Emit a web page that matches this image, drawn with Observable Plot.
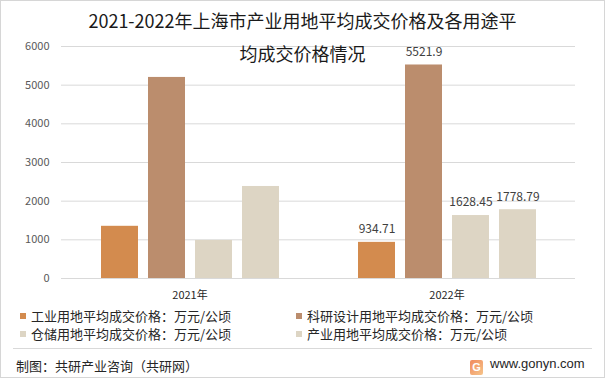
<!DOCTYPE html>
<html>
<head>
<meta charset="utf-8">
<script src="https://cdn.jsdelivr.net/npm/d3@7"></script>
<script src="https://cdn.jsdelivr.net/npm/@observablehq/plot@0.6"></script>
<style>
  html, body { margin: 0; padding: 0; background: #fff; }
  #wrap { position: relative; width: 605px; height: 378px; overflow: hidden; font-family: "Noto Sans CJK SC", "Noto Sans", sans-serif; background: #fff; }
  #border { position: absolute; left: 0; top: 0; width: 603px; height: 376px; border: 1px solid #d6d6d6; pointer-events: none; }
  #chart { position: absolute; left: 0; top: 0; }
  #title { position: absolute; left: 0; top: 4px; width: 605px; text-align: center; font-size: 18px; line-height: 33px; color: #1a1a1a; }
  .leg { position: absolute; font-size: 13px; color: #262626; line-height: 16px; white-space: nowrap; }
  .leg i { display: inline-block; width: 6px; height: 6px; margin-right: 5px; vertical-align: 2px; }
  #sep { position: absolute; left: 13px; top: 348px; width: 579px; height: 1px; background: #d9d9d9; }
  #src { position: absolute; left: 16px; top: 357px; font-size: 13px; line-height: 18px; color: #262626; }
  #site { position: absolute; left: 470px; top: 355px; font-size: 13px; line-height: 18px; color: #262626; font-family: "Liberation Sans", Arial, sans-serif; white-space: nowrap; }
  #logo { display: inline-block; width: 13px; height: 15px; margin-right: 7px; vertical-align: -3px; background: linear-gradient(135deg, #f08a5d, #f6c48a); border-radius: 2px; color: #fff; font-size: 11px; line-height: 15px; text-align: center; font-weight: bold; }
</style>
</head>
<body>
<div id="wrap">
  <div id="chart"></div>
  <div id="title"></div>
  <div id="legend"></div>
  <div id="sep"></div>
  <div id="src"></div>
  <div id="site"><span id="logo">G</span>www.gonyn.com</div>
  <div id="border"></div>
</div>
<script>
const titleLines = ["2021-2022年上海市产业用地平均成交价格及各用途平", "均成交价格情况"];
const years = ["2021年", "2022年"];
const series = [
  "工业用地平均成交价格：万元/公顷",
  "科研设计用地平均成交价格：万元/公顷",
  "仓储用地平均成交价格：万元/公顷",
  "产业用地平均成交价格：万元/公顷"
];
const values2021 = [1350, 5200, 985, 2380];
const values2022 = [934.71, 5521.9, 1628.45, 1778.79];
const labels2022 = ["934.71", "5521.9", "1628.45", "1778.79"];
const colors = ["#D38B4E", "#BB8D6D", "#DDD5C4", "#DDD5C4"];
const yTicks = [0, 1000, 2000, 3000, 4000, 5000, 6000];
const sourceText = "制图：共研产业咨询（共研网）";

const data = [];
series.forEach((s, i) => {
  data.push({year: years[0], series: s, value: values2021[i], label: null});
  data.push({year: years[1], series: s, value: values2022[i], label: labels2022[i]});
});

document.getElementById("title").innerHTML = titleLines.join("<br>");
document.getElementById("src").textContent = sourceText;

const legendPos = [[20, 308], [296, 308], [20, 326], [296, 326]];
const leg = document.getElementById("legend");
series.forEach((s, i) => {
  const d = document.createElement("div");
  d.className = "leg";
  d.style.left = legendPos[i][0] + "px";
  d.style.top = legendPos[i][1] + "px";
  d.innerHTML = `<i style="background:${colors[i]}"></i>`;
  d.appendChild(document.createTextNode(s));
  leg.appendChild(d);
});

const chart = Plot.plot({
  width: 605,
  height: 305,
  marginTop: 46,
  marginBottom: 27,
  marginLeft: 61,
  marginRight: 30,
  style: {fontSize: "11px", fontFamily: "\"Noto Sans CJK SC\", sans-serif", color: "#595959", background: "transparent"},
  fx: {domain: years, padding: 0, label: null, axis: null},
  x: {domain: series, paddingInner: 0.213, paddingOuter: 0.84, axis: null},
  y: {domain: [0, 6000], label: null},
  color: {domain: series, range: colors},
  marks: [
    Plot.gridY(yTicks, {stroke: "#d9d9d9", strokeOpacity: 1}),
    Plot.axisY(yTicks, {tickSize: 0, tickPadding: 12, label: null, fill: "#595959", tickFormat: d => String(d)}),
    Plot.axisFx({anchor: "bottom", tickSize: 0, tickPadding: 13, label: null, fill: "#262626"}),
    Plot.barY(data, {fx: "year", x: "series", y: "value", fill: "series"}),
    Plot.text(data.filter(d => d.label), {fx: "year", x: "series", y: "value", text: "label", dy: -13, fill: "#404040", fontSize: 12})
  ]
});
document.getElementById("chart").appendChild(chart);
</script>
</body>
</html>
